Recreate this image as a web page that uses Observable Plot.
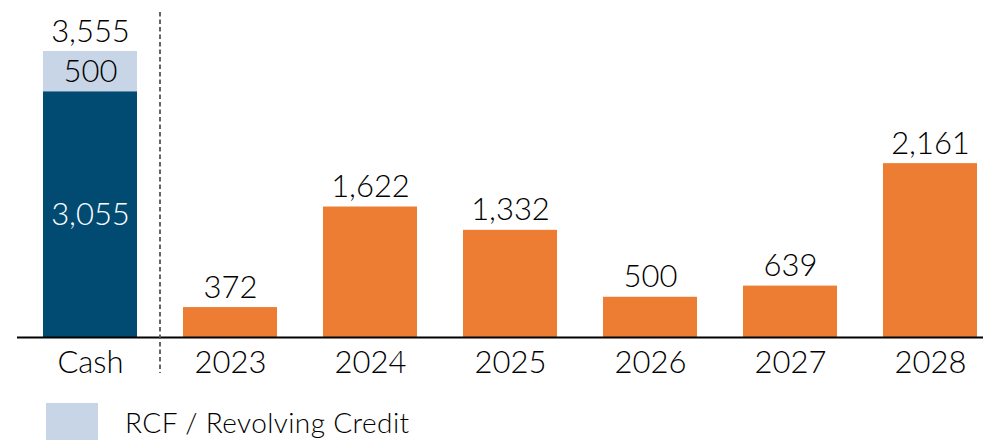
<!DOCTYPE html>
<html>
<head>
<meta charset="utf-8">
<script src="https://cdn.jsdelivr.net/npm/d3@7"></script>
<script src="https://cdn.jsdelivr.net/npm/@observablehq/plot@0.6"></script>
<style>
  html, body { margin: 0; padding: 0; background: #fff; }
  body { width: 983px; height: 440px; overflow: hidden; font-family: Lato, "Open Sans", sans-serif; font-weight: 300; }
  #legend { display: flex; align-items: center; height: 42px; padding-left: 46px; }
  #legend .sw { width: 52px; height: 37px; background: #C7D5E6; margin-top: 5px; }
  #legend .lb { margin-left: 27px; font-size: 28px; color: #000; margin-top: 5px; font-weight: 300; letter-spacing: 0.4px; }
</style>
</head>
<body>
<div id="chart"></div>
<div id="legend"><div class="sw"></div><div class="lb">RCF / Revolving Credit</div></div>
<script>
const categories = ["Cash", "2023", "2024", "2025", "2026", "2027", "2028"];
const cashValue = 3055;
const rcfValue = 500;
const maturityYears = ["2023", "2024", "2025", "2026", "2027", "2028"];
const maturityValues = [372, 1622, 1332, 500, 639, 2161];
const parts = ["Cash", "RCF", "Maturity"];
const partColors = ["#014B73", "#C7D5E6", "#ED7D32"];

const rows = [
  {cat: "Cash", part: "Cash", y1: 0, y2: cashValue, value: cashValue},
  {cat: "Cash", part: "RCF", y1: cashValue, y2: cashValue + rcfValue, value: rcfValue},
  ...maturityYears.map((c, i) => ({cat: c, part: "Maturity", y1: 0, y2: maturityValues[i], value: maturityValues[i]}))
];
const totals = [
  {cat: "Cash", total: cashValue + rcfValue},
  ...maturityYears.map((c, i) => ({cat: c, total: maturityValues[i]}))
];
const fmt = d3.format(",");
const H = 398;

const chart = Plot.plot({
  width: 983,
  height: H,
  marginTop: 51,
  marginBottom: H - 337,
  marginLeft: 17,
  marginRight: 0,
  style: {fontFamily: "Lato, 'Open Sans', sans-serif", fontWeight: 300, color: "#000", background: "#fff"},
  x: {domain: categories, range: [41, 979], paddingInner: 0.332, paddingOuter: 0, axis: null},
  y: {domain: [0, cashValue + rcfValue], axis: null},
  color: {domain: parts, range: partColors},
  marks: [
    Plot.barY(rows, {x: "cat", y1: "y1", y2: "y2", fill: "part"}),
    Plot.ruleY([0], {stroke: "#000", strokeWidth: 2.2}),
    Plot.text(totals, {x: "cat", y: "total", text: d => fmt(d.total), lineAnchor: "bottom", dy: -10, fontSize: 31, fontWeight: 300, fill: "#000"}),
    Plot.text(rows.filter(d => d.cat === "Cash"), {x: "cat", y: d => (d.y1 + d.y2) / 2, text: d => fmt(d.value), fontSize: 31, fontWeight: 300,
      fill: d => d.part === "Cash" ? "#fff" : "#000"}),
    Plot.axisX({domain: categories, tickSize: 0, tickPadding: 13, fontSize: 31, fontWeight: 300, fill: "#000", label: null})
  ]
});
document.getElementById("chart").appendChild(chart);

// dashed separator between Cash and the maturity years, placed via the x scale
const xs = chart.scale("x");
const bw = xs.bandwidth;
const xCash = xs.apply("Cash") + bw;
const x2023 = xs.apply("2023");
const xm = (xCash + x2023) / 2;
const svg = d3.select(chart.tagName === "svg" ? chart : chart.querySelector("svg"));
svg.append("line")
  .attr("x1", xm).attr("x2", xm)
  .attr("y1", 12).attr("y2", 373)
  .attr("stroke", "#555").attr("stroke-width", 1.8)
  .attr("stroke-dasharray", "4.5,3");
</script>
</body>
</html>
